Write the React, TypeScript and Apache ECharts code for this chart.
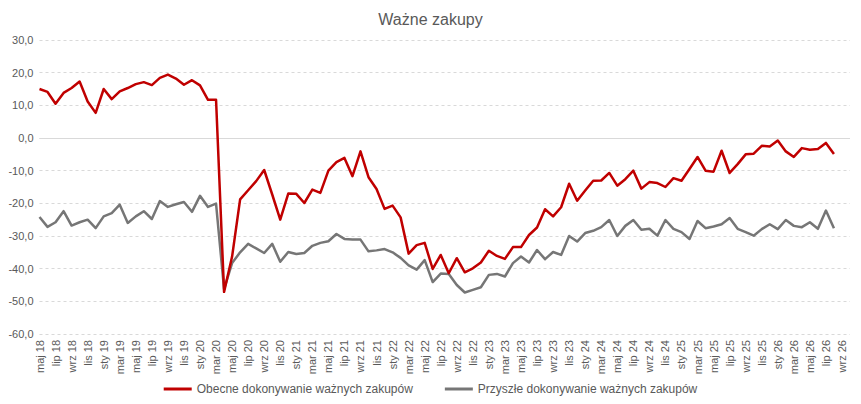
import React, { useEffect, useRef } from "react";
import * as echarts from "echarts";

const categories: string[] = [
  "maj 18","cze 18","lip 18","sie 18","wrz 18","paź 18","lis 18","gru 18",
  "sty 19","lut 19","mar 19","kwi 19","maj 19","cze 19","lip 19","sie 19","wrz 19","paź 19","lis 19","gru 19",
  "sty 20","lut 20","mar 20","kwi 20","maj 20","cze 20","lip 20","sie 20","wrz 20","paź 20","lis 20","gru 20",
  "sty 21","lut 21","mar 21","kwi 21","maj 21","cze 21","lip 21","sie 21","wrz 21","paź 21","lis 21","gru 21",
  "sty 22","lut 22","mar 22","kwi 22","maj 22","cze 22","lip 22","sie 22","wrz 22","paź 22","lis 22","gru 22",
  "sty 23","lut 23","mar 23","kwi 23","maj 23","cze 23","lip 23","sie 23","wrz 23","paź 23","lis 23","gru 23",
  "sty 24","lut 24","mar 24","kwi 24","maj 24","cze 24","lip 24","sie 24","wrz 24","paź 24","lis 24","gru 24",
  "sty 25","lut 25","mar 25","kwi 25","maj 25","cze 25","lip 25","sie 25","wrz 25","paź 25","lis 25","gru 25",
  "sty 26","lut 26","mar 26","kwi 26","maj 26","cze 26","lip 26","sie 26","wrz 26","paź 26",
];

const obecne: number[] = [
  15.0, 14.1, 10.5, 13.8, 15.3, 17.3, 11.2, 7.7, 15.0, 11.9,
  14.3, 15.3, 16.5, 17.1, 16.2, 18.4, 19.4, 18.2, 16.3, 17.7,
  16.1, 11.7, 11.7, -47.1, -36.3, -18.8, -16.0, -13.2, -9.8, -17.3,
  -25.0, -17.0, -17.1, -19.9, -15.8, -16.8, -10.0, -7.4, -6.1, -11.7,
  -4.1, -12.0, -15.6, -21.7, -20.7, -24.3, -35.4, -32.8, -32.1, -40.1,
  -35.8, -41.4, -36.8, -41.1, -39.9, -38.1, -34.5, -36.1, -37.0, -33.4,
  -33.4, -29.7, -27.4, -21.8, -24.0, -21.2, -14.0, -19.2, -16.1, -13.1,
  -13.0, -10.7, -14.6, -12.6, -10.0, -15.5, -13.5, -13.8, -15.0, -12.3,
  -13.1, -9.5, -5.8, -10.0, -10.3, -3.9, -10.7, -8.0, -5.0, -4.8,
  -2.4, -2.6, -0.8, -4.1, -5.8, -3.1, -3.6, -3.4, -1.5, -4.9,
];

const przyszle: number[] = [
  -24.2, -27.2, -25.8, -22.4, -26.8, -25.8, -25.0, -27.6, -24.0, -23.0,
  -20.4, -26.0, -24.0, -22.4, -24.8, -19.3, -21.1, -20.3, -19.6, -22.6,
  -17.7, -21.1, -20.1, -46.3, -38.3, -35.0, -32.4, -33.8, -35.2, -32.4,
  -37.9, -34.9, -35.5, -35.2, -33.0, -32.1, -31.6, -29.4, -30.9, -31.1,
  -31.1, -34.7, -34.4, -34.0, -35.0, -36.7, -39.0, -40.3, -37.4, -44.1,
  -41.5, -41.6, -45.0, -47.3, -46.5, -45.7, -41.9, -41.6, -42.4, -38.3,
  -36.3, -38.1, -34.3, -37.1, -34.9, -35.8, -30.0, -31.7, -29.1, -28.4,
  -27.3, -25.1, -30.0, -26.9, -25.1, -28.1, -27.8, -29.9, -25.1, -27.8,
  -28.8, -30.9, -25.4, -27.6, -27.1, -26.4, -24.5, -27.8, -28.8, -29.9,
  -27.9, -26.4, -27.9, -25.1, -26.9, -27.3, -25.8, -27.8, -22.2, -27.6,
];

const TITLE = "Ważne zakupy";
const SERIES_NAMES = ["Obecne dokonywanie ważnych zakupów", "Przyszłe dokonywanie ważnych zakupów"];

const FONT = "'Liberation Sans', Arial, sans-serif";
const TEXT = "#595959";

export default function App() {
  const ref = useRef<HTMLDivElement>(null);
  useEffect(() => {
    if (!ref.current) return;
    const chart = echarts.init(ref.current, null, { renderer: "svg" });
    chart.setOption({
      animation: false,
      backgroundColor: "#ffffff",
      textStyle: { fontFamily: FONT },
      title: {
        text: TITLE,
        left: "center",
        top: 6,
        textStyle: { fontFamily: FONT, fontSize: 16, fontWeight: "normal", color: TEXT },
      },
      legend: {
        bottom: 4,
        left: "center",
        icon: "rect",
        itemWidth: 28,
        itemHeight: 3,
        itemGap: 32,
        textStyle: { fontFamily: FONT, fontSize: 12, color: TEXT },
        data: SERIES_NAMES,
      },
      grid: { left: 39.5, right: 11, top: 40, bottom: 70, containLabel: false },
      xAxis: {
        type: "category",
        data: categories,
        boundaryGap: false,
        axisLine: { show: false },
        axisTick: { show: false },
        splitLine: { show: false },
        axisLabel: {
          interval: 1,
          rotate: 90,
          margin: 6,
          fontFamily: FONT,
          fontSize: 11,
          color: TEXT,
        },
      },
      yAxis: {
        type: "value",
        min: -60,
        max: 30,
        interval: 10,
        axisLine: { show: false },
        axisTick: { show: false },
        axisLabel: {
          margin: 6,
          fontFamily: FONT,
          fontSize: 11,
          color: TEXT,
          formatter: (v: number) => v.toFixed(1).replace(".", ","),
        },
        splitLine: { lineStyle: { color: "#d9d9d9", type: [3, 3], width: 1 } },
      },
      series: [
        {
          name: SERIES_NAMES[0],
          type: "line",
          data: obecne,
          symbol: "none",
          lineStyle: { color: "#c00000", width: 2.5, join: "round" },
          itemStyle: { color: "#c00000" },
          z: 3,
          markLine: {
            silent: true,
            symbol: ["none", "none"],
            label: { show: false },
            lineStyle: { color: "#d9d9d9", type: "solid", width: 1 },
            data: [{ yAxis: 0 }],
            z: 1,
          },
        },
        {
          name: SERIES_NAMES[1],
          type: "line",
          data: przyszle,
          symbol: "none",
          lineStyle: { color: "#767676", width: 2.5, join: "round" },
          itemStyle: { color: "#767676" },
          z: 2,
        },
      ],
    });
    return () => chart.dispose();
  }, []);
  return (
    <div
      ref={ref}
      style={{ position: "fixed", left: 0, top: 0, width: 861, height: 404 }}
    />
  );
}
